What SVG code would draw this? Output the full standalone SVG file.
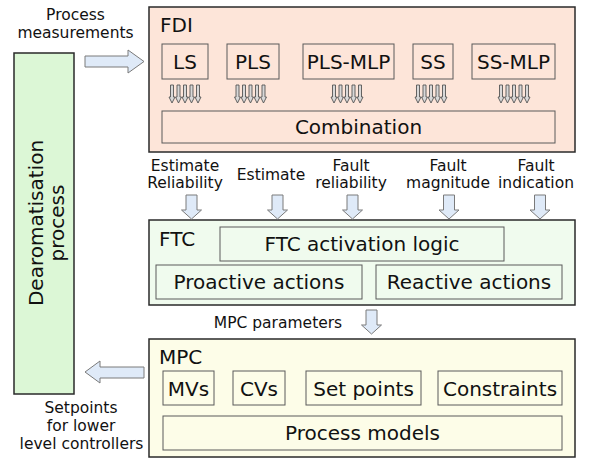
<svg xmlns="http://www.w3.org/2000/svg" xmlns:xlink="http://www.w3.org/1999/xlink" width="602" height="459" viewBox="0 0 602 459">
<style>
text{font-family:"DejaVu Sans",Verdana,sans-serif;fill:#111}
.big{font-size:20px}
.lbl{font-size:15.5px;text-anchor:middle}
.mid{text-anchor:middle}
.outer{stroke:#2a2a2a;stroke-width:1.5}
.inner{fill:none;stroke:#5a5a5a;stroke-width:1}
.barrow{fill:#dfeaf8;stroke:#7a7a7a;stroke-width:1}
.sarrow{fill:#d8d8d8;stroke:#555;stroke-width:0.9}
</style>
<defs>
<path id="down" class="barrow" d="M-5.5,0 H5.5 V15 H10 L0,24 L-10,15 H-5.5 Z"/>
<g id="bundle">
<path class="sarrow" d="M-14.5,85 h3 v12 h1.5 l-3,6 l-3,-6 h1.5 z"/>
<path class="sarrow" d="M-8,85 h3 v12 h1.5 l-3,6 l-3,-6 h1.5 z"/>
<path class="sarrow" d="M-1.5,85 h3 v12 h1.5 l-3,6 l-3,-6 h1.5 z"/>
<path class="sarrow" d="M5,85 h3 v12 h1.5 l-3,6 l-3,-6 h1.5 z"/>
<path class="sarrow" d="M11.5,85 h3 v12 h1.5 l-3,6 l-3,-6 h1.5 z"/>
</g>
</defs>
<rect width="602" height="459" fill="#fff"/>

<g id="process">
<rect x="14" y="53" width="60" height="341" fill="#dcf7d6" class="outer"/>
<g transform="translate(43,223) rotate(-90)">
<text class="big mid" x="0" y="0">Dearomatisation</text>
<text class="big mid" x="0" y="21">process</text>
</g>
</g>

<g id="fdi">
<rect x="149" y="7" width="426" height="145" fill="#fde5d9" class="outer"/>
<text class="big" x="160" y="32">FDI</text>
<g id="ls"><rect class="inner" x="162" y="44" width="46" height="35"/><text class="big mid" x="185" y="69">LS</text></g>
<g id="pls"><rect class="inner" x="227" y="44" width="52" height="35"/><text class="big mid" x="253" y="69">PLS</text></g>
<g id="plsmlp"><rect class="inner" x="303" y="44" width="91" height="35"/><text class="big mid" x="348.5" y="69">PLS-MLP</text></g>
<g id="ss"><rect class="inner" x="413" y="44" width="40" height="35"/><text class="big mid" x="433" y="69">SS</text></g>
<g id="ssmlp"><rect class="inner" x="472" y="44" width="83" height="35"/><text class="big mid" x="513.5" y="69">SS-MLP</text></g>
<use xlink:href="#bundle" x="185"/>
<use xlink:href="#bundle" x="250.5"/>
<use xlink:href="#bundle" x="347"/>
<use xlink:href="#bundle" x="431"/>
<use xlink:href="#bundle" x="514"/>
<g id="combination"><rect class="inner" x="162" y="111" width="393" height="32"/><text class="big mid" x="358.5" y="134">Combination</text></g>
</g>

<g id="ftc">
<rect x="149" y="220" width="426" height="85" fill="#f0fbee" class="outer"/>
<text class="big" x="159" y="246">FTC</text>
<g id="activation"><rect class="inner" x="220" y="227" width="284" height="34"/><text class="big mid" x="362" y="251">FTC activation logic</text></g>
<g id="proactive"><rect class="inner" x="156" y="265" width="206" height="34"/><text class="big mid" x="259" y="289">Proactive actions</text></g>
<g id="reactive"><rect class="inner" x="376" y="265" width="186" height="34"/><text class="big mid" x="469" y="289">Reactive actions</text></g>
</g>

<g id="mpc">
<rect x="149" y="339" width="426" height="118" fill="#fdfde8" class="outer"/>
<text class="big" x="159" y="364">MPC</text>
<g id="mvs"><rect class="inner" x="163" y="371" width="51" height="34"/><text class="big mid" x="188.5" y="396">MVs</text></g>
<g id="cvs"><rect class="inner" x="233" y="371" width="52" height="34"/><text class="big mid" x="259" y="396">CVs</text></g>
<g id="setpoints"><rect class="inner" x="306" y="371" width="115" height="34"/><text class="big mid" x="363.5" y="396">Set points</text></g>
<g id="constraints"><rect class="inner" x="438" y="371" width="124" height="34"/><text class="big mid" x="500" y="396">Constraints</text></g>
<g id="models"><rect class="inner" x="163" y="416" width="399" height="34"/><text class="big mid" x="362.5" y="440">Process models</text></g>
</g>

<g id="connectors">
<path class="barrow" d="M85,56 H128 V50 L144,61.5 L128,73 V67 H85 Z"/>
<path class="barrow" d="M144,367 H100 V361 L85,372 L100,383 V378 H144 Z"/>
<use xlink:href="#down" x="191.5" y="195"/>
<use xlink:href="#down" x="277.5" y="195"/>
<use xlink:href="#down" x="352.5" y="195"/>
<use xlink:href="#down" x="449" y="195"/>
<use xlink:href="#down" x="540" y="195"/>
<use xlink:href="#down" x="371.5" y="310"/>
<text class="lbl" x="75.5" y="20">Process</text>
<text class="lbl" x="75.5" y="38">measurements</text>
<text class="lbl" x="185" y="171">Estimate</text>
<text class="lbl" x="185" y="188">Reliability</text>
<text class="lbl" x="271" y="180">Estimate</text>
<text class="lbl" x="351" y="171">Fault</text>
<text class="lbl" x="351" y="188">reliability</text>
<text class="lbl" x="448" y="171">Fault</text>
<text class="lbl" x="448" y="188">magnitude</text>
<text class="lbl" x="536" y="171">Fault</text>
<text class="lbl" x="536" y="188">indication</text>
<text class="lbl" x="278" y="328">MPC parameters</text>
<text class="lbl" x="81" y="413">Setpoints</text>
<text class="lbl" x="81" y="431">for lower</text>
<text class="lbl" x="81.5" y="449">level controllers</text>
</g>
</svg>
